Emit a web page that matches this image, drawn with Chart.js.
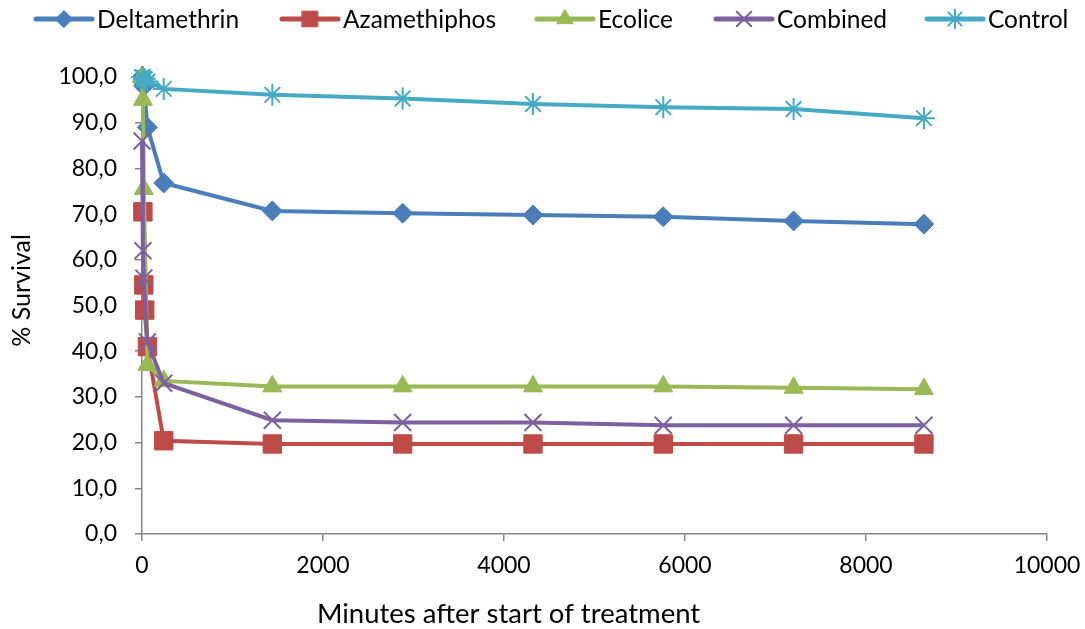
<!DOCTYPE html>
<html><head><meta charset="utf-8">
<script src="https://cdn.jsdelivr.net/npm/chart.js@4/dist/chart.umd.min.js"></script>
<style>html,body{margin:0;padding:0;background:#fff}#wrap{width:1085px;height:629px;position:relative}</style>
</head><body><div id="wrap"><canvas id="c"></canvas></div>
<script>
// Data (minutes after start of treatment -> % survival)
const minutes      = [0, 10, 20, 30, 60, 240, 1440, 2880, 4320, 5760, 7200, 8640];
const seriesNames  = ['Deltamethrin', 'Azamethiphos', 'Ecolice', 'Combined', 'Control'];
const deltamethrin = [100, 99, 98, null, 89, 76.8, 70.7, 70.2, 69.8, 69.4, 68.5, 67.8];
const azamethiphos = [null, 70.5, 54.5, 49, 41, 20.4, 19.7, 19.7, 19.7, 19.7, 19.7, 19.7];
const ecolice      = [100, 95, 75.5, null, 37, 33.5, 32.3, 32.3, 32.3, 32.3, 32.0, 31.7];
const combined     = [86, 62, 56, null, 42, 33, 24.9, 24.4, 24.4, 23.8, 23.8, 23.8];
const control      = [100, 100, 99.5, 99.5, 99, 97.4, 96.1, 95.3, 94.1, 93.4, 93.0, 91.0];
const xAxisTitle = 'Minutes after start of treatment';
const yAxisTitle = '% Survival';

const colors = ['#4A7EBB', '#BE4B48', '#98B954', '#7D60A0', '#46AAC5'];
const styles = ['rectRot', 'rect', 'triangle', 'crossRot', 'star'];
const radii  = [10, 13, 11, 12, 11];
const bws    = [1, 1, 1, 2, 2];
const seriesValues = [deltamethrin, azamethiphos, ecolice, combined, control];
const FONT = 'Lato, "Open Sans", sans-serif';

const datasets = seriesNames.map((name, i) => ({
  label: name,
  data: minutes.map((m, j) => ({x: m, y: seriesValues[i][j]})),
  borderColor: colors[i],
  backgroundColor: colors[i],
  pointBackgroundColor: colors[i],
  pointBorderColor: colors[i],
  pointStyle: styles[i],
  pointRadius: radii[i],
  pointHoverRadius: radii[i],
  pointBorderWidth: bws[i],
  borderWidth: 4,
  tension: 0,
  spanGaps: true,
  clip: false,
  order: seriesNames.length - i
}));

const legendItemX = [36, 282, 537, 716, 927];
const legendPlugin = {
  id: 'excelLegend',
  afterDraw(chart) {
    const ctx = chart.ctx;
    ctx.save();
    const y = 19;
    chart.data.datasets.forEach((ds, i) => {
      const x0 = legendItemX[i], len = 56;
      ctx.strokeStyle = ds.borderColor;
      ctx.lineWidth = 5;
      ctx.lineCap = 'round';
      ctx.beginPath(); ctx.moveTo(x0, y); ctx.lineTo(x0 + len, y); ctx.stroke();
      ctx.fillStyle = ds.backgroundColor;
      ctx.lineWidth = ds.pointBorderWidth;
      Chart.helpers.drawPoint(ctx, {pointStyle: ds.pointStyle, radius: ds.pointRadius * 0.85, rotation: 0, borderWidth: ds.pointBorderWidth}, x0 + len / 2, y);
      ctx.fillStyle = '#000';
      ctx.font = '24.5px ' + FONT;
      ctx.textBaseline = 'middle';
      ctx.textAlign = 'left';
      ctx.fillText(ds.label, x0 + len + 5, y + 1);
    });
    // axis titles
    const ca = chart.chartArea;
    ctx.fillStyle = '#000';
    ctx.textAlign = 'center';
    ctx.textBaseline = 'middle';
    ctx.font = '27.5px ' + FONT;
    ctx.fillText(xAxisTitle, ca.left + (ca.right - ca.left) * 0.405, 614);
    ctx.save();
    ctx.translate(22, ca.top + (ca.bottom - ca.top) * 0.467);
    ctx.rotate(-Math.PI / 2);
    ctx.font = '25px ' + FONT;
    ctx.fillText(yAxisTitle, 0, 0);
    ctx.restore();
    ctx.restore();
  }
};

new Chart(document.getElementById('c'), {
  type: 'line',
  data: {datasets},
  plugins: [legendPlugin],
  options: {
    responsive: true,
    maintainAspectRatio: false,
    animation: false,
    events: [],
    layout: {padding: {top: 77, right: 38, left: 0, bottom: 0}},
    plugins: {legend: {display: false}, tooltip: {enabled: false}},
    scales: {
      x: {
        type: 'linear', min: 0, max: 10000,
        afterFit(s) { s.height = 95; s.paddingRight = 0; s.paddingLeft = 0; },
        ticks: {stepSize: 2000, color: '#000', font: {family: FONT, size: 23}, padding: 11, maxRotation: 0,
                callback: v => String(v)},
        grid: {drawOnChartArea: false, drawTicks: true, tickLength: 7, color: '#868686', lineWidth: 1.5},
        border: {color: '#868686', width: 1.5},
        title: {display: false}
      },
      y: {
        min: 0, max: 100,
        afterFit(s) { s.width = 142; s.paddingTop = 0; s.paddingBottom = 0; },
        ticks: {stepSize: 10, color: '#000', font: {family: FONT, size: 23}, padding: 18,
                callback: v => v.toFixed(1).replace('.', ',')},
        grid: {drawOnChartArea: false, drawTicks: true, tickLength: 7, color: '#868686', lineWidth: 1.5},
        border: {color: '#868686', width: 1.5},
        title: {display: false}
      }
    }
  }
});
</script></body></html>
